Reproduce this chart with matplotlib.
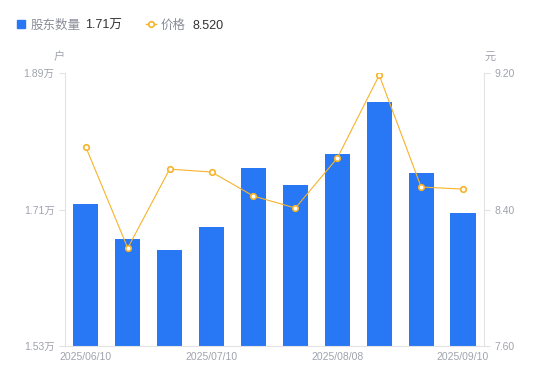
import matplotlib
matplotlib.use("Agg")
import matplotlib.pyplot as plt
from matplotlib.lines import Line2D
from matplotlib.patches import Rectangle

plt.rcParams['font.family'] = ['Liberation Sans', 'Noto Sans CJK SC', 'DejaVu Sans']

# data
dates = ['2025/06/10', '2025/06/20', '2025/06/30', '2025/07/10', '2025/07/20',
         '2025/07/31', '2025/08/08', '2025/08/20', '2025/08/29', '2025/09/10']
holders = [1.7175, 1.671, 1.657, 1.687, 1.765, 1.742, 1.783, 1.852, 1.758, 1.705]  # 万户
price = [8.766, 8.174, 8.637, 8.620, 8.479, 8.409, 8.702, 9.188, 8.532, 8.520]
tick_idx = [0, 3, 6, 9]

bar_color = '#2878F5'
line_color = '#F7B32B'
grey = '#A0A3AE'
axis_grey = '#E3E3E3'

fig = plt.figure(figsize=(5.5, 3.81), dpi=100)
ax = fig.add_axes([0.118, 0.092, 0.762, 0.716])
ax2 = ax.twinx()

x = list(range(len(dates)))
ax.bar(x, holders, width=0.6, color=bar_color, zorder=2)
ax.set_ylim(1.53, 1.89)
ax.set_xlim(-0.5, len(dates) - 0.5)
ax.set_yticks([1.53, 1.71, 1.89])
ax.set_yticklabels(['1.53万', '1.71万', '1.89万'])
ax.set_xticks(tick_idx)
ax.set_xticklabels([dates[i] for i in tick_idx])

ax2.plot(x, price, color=line_color, lw=0.8, marker='o', ms=4,
         mfc='white', mec=line_color, mew=1.2, zorder=3)
ax2.set_ylim(7.6, 9.2)
ax2.set_yticks([7.6, 8.4, 9.2])
ax2.set_yticklabels(['7.60', '8.40', '9.20'])

for a in (ax, ax2):
    for s in a.spines.values():
        s.set_visible(False)
    a.tick_params(labelsize=7.5, colors=grey, length=4, width=0.8)
    a.tick_params(axis='y', color=axis_grey)
ax.spines['left'].set_visible(True)
ax.spines['left'].set_color(axis_grey)
ax.spines['bottom'].set_visible(True)
ax.spines['bottom'].set_color(axis_grey)
ax2.spines['right'].set_visible(True)
ax2.spines['right'].set_color(axis_grey)
ax.tick_params(axis='x', length=0, pad=4)
ax2.set_zorder(ax.get_zorder() + 1)
ax2.patch.set_visible(False)

# unit labels
fig.text(59 / 550, 1 - 57 / 381, '户', fontsize=8, color=grey, ha='center', va='center')
fig.text(490 / 550, 1 - 57 / 381, '元', fontsize=8, color=grey, ha='center', va='center')

# legend row
ly = 1 - 24 / 381
ty = 1 - 26 / 381
fig.patches.append(Rectangle((17 / 550, 1 - 28 / 381), 8 / 550, 8 / 381,
                             transform=fig.transFigure, color=bar_color, figure=fig))
fig.text(31 / 550, ty, '股东数量', fontsize=9, color='#8A8D99', va='center')
fig.text(85 / 550, ty, '1.71万', fontsize=9, color='#333333', va='center')
fig.lines.append(Line2D([146 / 550, 156 / 550], [ly, ly],
                        transform=fig.transFigure, color=line_color, lw=1,
                        figure=fig))
fig.lines.append(Line2D([151 / 550], [ly], transform=fig.transFigure,
                        marker='o', ms=4, mfc='white', mec=line_color, mew=1.2,
                        figure=fig))
fig.text(161 / 550, ty, '价格', fontsize=9, color='#8A8D99', va='center')
fig.text(192 / 550, ty, '8.520', fontsize=9, color='#333333', va='center')

fig.savefig('out.png', dpi=100)
